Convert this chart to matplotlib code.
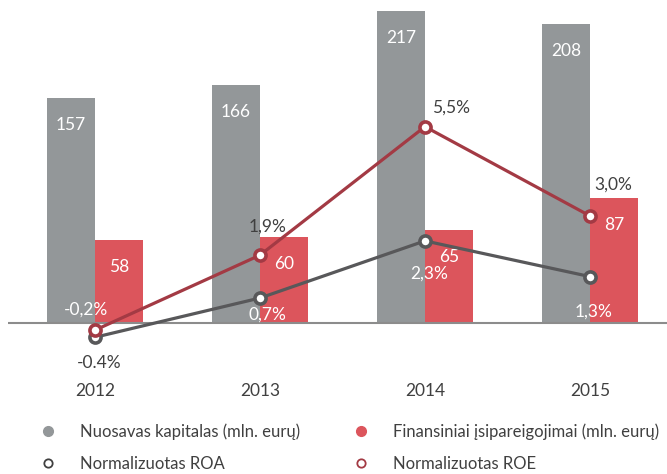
import numpy as np
import matplotlib
matplotlib.use("Agg")
import matplotlib.pyplot as plt
from matplotlib.lines import Line2D

plt.rcParams['font.family'] = ['Lato', 'DejaVu Sans']

# data
years = ["2012", "2013", "2014", "2015"]
equity = [157, 166, 217, 208]          # Nuosavas kapitalas, mln. eurų
liabilities = [58, 60, 65, 87]         # Finansiniai įsipareigojimai, mln. eurų
roa = [-0.4, 0.7, 2.3, 1.3]            # %
roe = [-0.2, 1.9, 5.5, 3.0]            # %
roa_text = ["-0.4%", "0,7%", "2,3%", "1,3%"]
roe_text = ["-0,2%", "1,9%", "5,5%", "3,0%"]

# label offsets in pixels (dx, dy) and colours
roe_off = [(-9, 21), (8, 29), (26, 19), (23, 31)]
roe_col = ["white", "#404040", "#404040", "#404040"]
roa_off = [(4, -26), (7, -17), (4, -33), (4, -35)]
roa_col = ["#404040", "white", "white", "white"]

GRAY = "#939799"
RED = "#dc555c"
DARKRED = "#a33a44"
DARKGRAY = "#58585a"
TXT = "#404040"
FS = 12.5

fig = plt.figure(figsize=(6.67, 4.74), dpi=100)
ax = fig.add_axes([8 / 667, 1 - 345 / 474, 659 / 667, 345 / 474])

x = np.arange(len(years))
w = 0.29
b1 = ax.bar(x - w / 2, equity, w, color=GRAY, zorder=2)
b2 = ax.bar(x + w / 2, liabilities, w, color=RED, zorder=2)
ax.axhline(0, color="#8c8c8c", lw=1.5, zorder=3)

ax.set_xlim(-0.527, 3.467)
ax.set_ylim(-22 / 1.436, 323 / 1.436)

for bars, vals in ((b1, equity), (b2, liabilities)):
    for r, v in zip(bars, vals):
        ax.annotate(str(v), (r.get_x() + r.get_width() / 2, v),
                    xytext=(0, -27), textcoords="offset pixels",
                    ha="center", va="center", color="white", fontsize=FS)

ax.set_xticks(x, years)
ax.tick_params(length=0, pad=27, labelsize=FS, colors=TXT)
ax.set_yticks([])
for s in ax.spines.values():
    s.set_visible(False)

# percentages on a second axis sharing the zero line
ax2 = ax.twinx()
ax2.set_ylim(-22 / 35.7, 323 / 35.7)
ax2.set_yticks([])
for s in ax2.spines.values():
    s.set_visible(False)

ax2.plot(x, roa, color=DARKGRAY, lw=2.3, marker="o", ms=8, mfc="white",
         mec=DARKGRAY, mew=2.6, zorder=3)
ax2.plot(x, roe, color=DARKRED, lw=2.3, marker="o", ms=8, mfc="white",
         mec=DARKRED, mew=2.6, zorder=4)

for xi, v, t, o, c in zip(x, roe, roe_text, roe_off, roe_col):
    ax2.annotate(t, (xi, v), xytext=o, textcoords="offset pixels",
                 ha="center", va="center", color=c, fontsize=FS, zorder=5)
for xi, v, t, o, c in zip(x, roa, roa_text, roa_off, roa_col):
    ax2.annotate(t, (xi, v), xytext=o, textcoords="offset pixels",
                 ha="center", va="center", color=c, fontsize=FS, zorder=5)

# legend: two columns, filled dots for bars, open circles for lines
handles = [
    Line2D([], [], ls="", marker="o", ms=7, color=GRAY),
    Line2D([], [], ls="", marker="o", ms=6, mfc="white", mec=TXT, mew=1.3),
    Line2D([], [], ls="", marker="o", ms=7, color=RED),
    Line2D([], [], ls="", marker="o", ms=6, mfc="white", mec=DARKRED, mew=1.3),
]
labels = ["Nuosavas kapitalas (mln. eurų)", "Normalizuotas ROA",
          "Finansiniai įsipareigojimai (mln. eurų)", "Normalizuotas ROE"]
fig.legend(handles, labels, ncol=2, loc="upper left",
           bbox_to_anchor=(0.0595, 0.106), frameon=False, fontsize=12,
           handlelength=1.0, handletextpad=1.42, columnspacing=3.16,
           labelspacing=0.95, borderpad=0, borderaxespad=0, labelcolor=TXT)

fig.savefig("out.png", dpi=100)
